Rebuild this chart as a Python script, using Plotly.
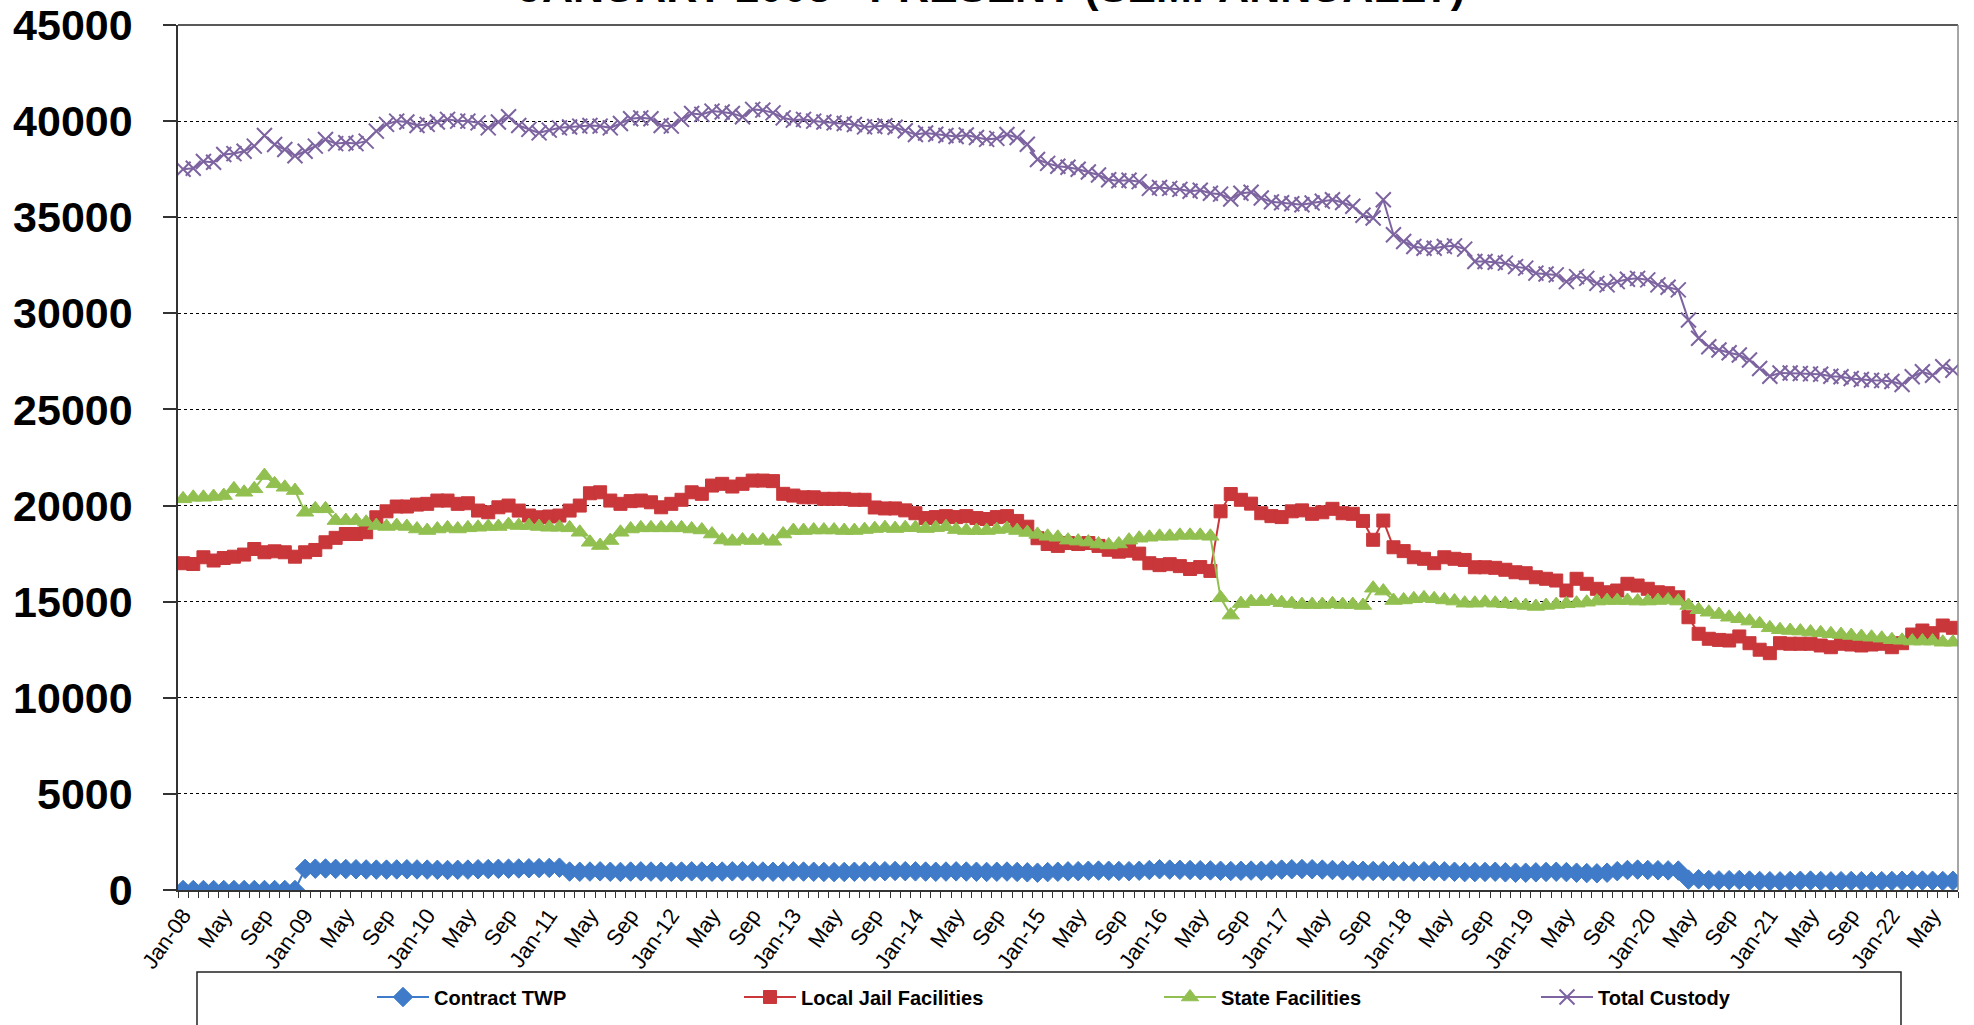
import plotly.graph_objects as go

MONTH_NAMES = ["Jan", "Feb", "Mar", "Apr", "May", "Jun", "Jul", "Aug", "Sep", "Oct", "Nov", "Dec"]
YEARS = ["08", "09", "10", "11", "12", "13", "14", "15", "16", "17", "18", "19", "20", "21", "22"]
# monthly categories Jan-08 .. Jul-22
CATEGORIES = [f"{m}-{y}" for y in YEARS for m in MONTH_NAMES][:175]

TICK_LABELS = ["Jan-08", "May", "Sep", "Jan-09", "May", "Sep", "Jan-10", "May", "Sep",
               "Jan-11", "May", "Sep", "Jan-12", "May", "Sep", "Jan-13", "May", "Sep",
               "Jan-14", "May", "Sep", "Jan-15", "May", "Sep", "Jan-16", "May", "Sep",
               "Jan-17", "May", "Sep", "Jan-18", "May", "Sep", "Jan-19", "May", "Sep",
               "Jan-20", "May", "Sep", "Jan-21", "May", "Sep", "Jan-22", "May"]

CONTRACT_TWP = [
    0, 0, 0, 0, 0, 0, 0, 0, 0, 0, 0, 0,
    1100, 1110, 1120, 1100, 1090, 1080, 1070, 1060, 1060, 1070, 1080, 1070,
    1060, 1050, 1040, 1050, 1060, 1080, 1090, 1100, 1110, 1120, 1130, 1140,
    1150, 1160, 960, 950, 960, 970, 950, 940, 960, 970, 960, 950,
    950, 960, 970, 960, 950, 960, 970, 980, 970, 960, 950, 960,
    970, 960, 950, 940, 930, 940, 950, 960, 970, 980, 990, 980,
    970, 960, 950, 960, 970, 960, 950, 940, 950, 960, 940, 920,
    900, 930, 950, 970, 980, 1000, 1010, 1000, 990, 980, 1000, 1040,
    1080, 1060, 1050, 1040, 1030, 1020, 1000, 990, 1000, 1010, 1000, 1040,
    1060, 1080, 1090, 1080, 1060, 1040, 1020, 1010, 1000, 990, 990, 980,
    970, 960, 980, 990, 970, 950, 930, 930, 940, 950, 920, 900,
    900, 920, 940, 950, 930, 900, 880, 870, 900, 980, 1040, 1060,
    1040, 1030, 1020, 1010, 540, 560, 520, 500, 510, 520, 490, 470,
    460, 450, 470, 480, 490, 470, 450, 460, 470, 460, 450, 460,
    470, 480, 490, 490, 480, 470, 480]

LOCAL_JAIL = [
    17000, 16960, 17310, 17140, 17270, 17340, 17450, 17740, 17570, 17620, 17570, 17340,
    17570, 17690, 18090, 18320, 18520, 18520, 18610, 19390, 19700, 19950, 19950, 20050,
    20090, 20260, 20260, 20090, 20120, 19740, 19650, 19910, 20000, 19740, 19480, 19390,
    19430, 19480, 19740, 20000, 20640, 20690, 20260, 20090, 20230, 20260, 20170, 19910,
    20090, 20300, 20690, 20610, 21040, 21130, 20990, 21130, 21300, 21300, 21270, 20610,
    20520, 20430, 20430, 20350, 20350, 20350, 20300, 20300, 19900, 19850, 19850, 19750,
    19600, 19350, 19400, 19450, 19400, 19450, 19350, 19300, 19400, 19450, 19200, 18900,
    18300, 18000, 17900, 18050, 18000, 18050, 17900, 17700, 17600, 17650, 17500, 17000,
    16900, 16950, 16850, 16700, 16800, 16600, 19700, 20600, 20300, 20100, 19600, 19450,
    19400, 19700, 19750, 19570, 19650, 19830, 19600, 19570, 19200, 18220, 19220, 17830,
    17630, 17310, 17230, 17000, 17310, 17230, 17170, 16790, 16790, 16760, 16660, 16530,
    16480, 16270, 16190, 16100, 15580, 16190, 15930, 15670, 15490, 15580, 15930, 15840,
    15670, 15490, 15440, 15230, 14190, 13330, 13070, 13010, 12980, 13190, 12840, 12500,
    12320, 12840, 12810, 12810, 12810, 12720, 12630, 12810, 12770, 12720, 12770, 12810,
    12630, 12840, 13290, 13500, 13360, 13760, 13640]

STATE_FACILITIES = [
    20350, 20430, 20430, 20470, 20520, 20870, 20690, 20870, 21560, 21130, 20950, 20780,
    19650, 19830, 19830, 19220, 19220, 19220, 19130, 18960, 18910, 18960, 18910, 18780,
    18700, 18780, 18840, 18780, 18840, 18870, 18910, 18910, 19010, 18960, 18960, 18910,
    18870, 18870, 18840, 18610, 18090, 17920, 18180, 18610, 18780, 18840, 18840, 18840,
    18840, 18840, 18780, 18730, 18520, 18210, 18140, 18210, 18180, 18210, 18140, 18520,
    18700, 18700, 18730, 18730, 18730, 18700, 18700, 18750, 18800, 18850, 18800, 18850,
    18850, 18800, 18850, 18900, 18750, 18700, 18700, 18700, 18750, 18800, 18700, 18600,
    18500, 18400, 18350, 18200, 18150, 18100, 18000, 17950, 18000, 18200, 18300, 18350,
    18400, 18400, 18450, 18450, 18450, 18400, 15200, 14300, 14900, 15000, 15000, 15050,
    14950, 14900, 14850, 14850, 14850, 14890, 14850, 14850, 14800, 15700, 15550, 15060,
    15090, 15150, 15200, 15150, 15090, 15030, 14920, 14920, 14970, 14920, 14890, 14850,
    14800, 14750, 14800, 14850, 14890, 14920, 14970, 15030, 15060, 15060, 15060, 15030,
    15030, 15060, 15090, 15030, 14800, 14580, 14450, 14330, 14190, 14110, 13990, 13850,
    13640, 13540, 13500, 13470, 13420, 13380, 13330, 13290, 13240, 13190, 13150, 13100,
    13020, 12990, 12950, 12950, 12950, 12890, 12890]

TOTAL_CUSTODY = [
    37500, 37550, 37900, 37860, 38260, 38310, 38430, 38700, 39250, 38780, 38520, 38200,
    38430, 38700, 39040, 38830, 38870, 38830, 38960, 39480, 39830, 40000, 39950, 39770,
    39830, 39950, 40090, 40000, 40000, 39910, 39650, 39950, 40230, 39770, 39570, 39390,
    39530, 39650, 39690, 39740, 39770, 39740, 39650, 39880, 40120, 40170, 40120, 39770,
    39740, 40090, 40400, 40350, 40520, 40470, 40400, 40230, 40610, 40570, 40430, 40170,
    40050, 40090, 40000, 39950, 39910, 39880, 39820, 39700, 39720, 39760, 39680, 39500,
    39300, 39380, 39320, 39250, 39200, 39280, 39150, 39050, 39100, 39300, 39150, 38800,
    38000, 37800, 37650, 37600, 37500, 37350, 37200, 36950, 36900, 36920, 36850, 36500,
    36550, 36500, 36450, 36350, 36400, 36250, 36200, 35950, 36250, 36300, 36000, 35800,
    35750, 35700, 35650, 35740, 35830, 35910, 35770, 35570, 35100, 34960, 35910, 34090,
    33740, 33480, 33390, 33390, 33480, 33510, 33340, 32700, 32700, 32660, 32610, 32430,
    32350, 32090, 32050, 32000, 31650, 31910, 31820, 31560, 31480, 31650, 31770, 31820,
    31740, 31480, 31360, 31220, 29650, 28700, 28260, 28090, 27950, 27830, 27570, 27130,
    26730, 26900, 26900, 26870, 26850, 26830, 26730, 26700, 26610, 26560, 26520, 26500,
    26450, 26300, 26700, 26960, 26780, 27220, 27040]

TITLE = "JANUARY 2008 - PRESENT (SEMI-ANNUALLY)"

W, H = 1974, 1025
L, R, T, B = 178, 16, 25, 135
PW, PH = W - L - R, H - T - B


def px_x(p):
    return (p - L) / PW


def px_y(p):
    return (H - B - p) / PH


label_every = 4
tick_text = []
k = 0
for i, c in enumerate(CATEGORIES):
    if i % label_every == 0 and k < len(TICK_LABELS):
        tick_text.append(TICK_LABELS[k])
        k += 1
    else:
        tick_text.append("")

series = [
    ("Contract TWP", CONTRACT_TWP, "#3f7bc8", "diamond", 15, "legend"),
    ("Local Jail Facilities", LOCAL_JAIL, "#c9373a", "square", 13, "legend2"),
    ("State Facilities", STATE_FACILITIES, "#92c050", "triangle-up", 15, "legend3"),
    ("Total Custody", TOTAL_CUSTODY, "#7d64a0", "x-thin", 15, "legend4"),
]

fig = go.Figure()
for name, vals, col, sym, sz, lg in series:
    marker = dict(symbol=sym, size=sz, color=col, line=dict(color=col, width=1))
    if sym == "x-thin":
        marker["line"] = dict(color=col, width=2)
    fig.add_trace(go.Scatter(
        x=CATEGORIES, y=vals, name=name, mode="lines+markers",
        line=dict(color=col, width=2), marker=marker, legend=lg,
    ))

legend_font = dict(family="Liberation Sans, Arial", size=20, color="black", weight="bold")
leg_x = [372, 739, 1159, 1536]
ly = px_y(997)
legends = {}
for idx, key in enumerate(["legend", "legend2", "legend3", "legend4"]):
    legends[key] = dict(x=px_x(leg_x[idx]), y=ly, xanchor="left", yanchor="middle",
                        orientation="h", font=legend_font, bgcolor="rgba(0,0,0,0)",
                        borderwidth=0, itemwidth=52)

fig.update_layout(
    width=W, height=H, autosize=False,
    margin=dict(l=L, r=R, t=T, b=B, autoexpand=False),
    paper_bgcolor="white", plot_bgcolor="white",
    showlegend=True,
    **legends,
    xaxis=dict(
        type="category", range=[-0.5, len(CATEGORIES) - 0.5], automargin=False,
        tickmode="array", tickvals=CATEGORIES, ticktext=tick_text,
        tickson="boundaries", ticks="outside", ticklen=6, tickwidth=1, tickcolor="#333",
        showline=True, linecolor="#333", linewidth=1.5, showgrid=False,
        tickangle=-55, ticklabelstandoff=2,
        tickfont=dict(family="Liberation Sans, Arial", size=22, color="black"),
    ),
    yaxis=dict(
        range=[0, 45000], dtick=5000, tick0=0, tickformat="d", automargin=False,
        showgrid=True, gridcolor="black", griddash="dot", gridwidth=1,
        showline=True, linecolor="#333", linewidth=1.5, zeroline=False,
        ticks="outside", ticklen=13, tickwidth=1.5, tickcolor="#333",
        ticklabelstandoff=22,
        tickfont=dict(family="Liberation Sans, Arial", size=43, color="black", weight="bold"),
    ),
    shapes=[
        dict(type="line", xref="paper", yref="paper", x0=0, x1=1, y0=1, y1=1,
             line=dict(color="#222", width=1.5)),
        dict(type="line", xref="paper", yref="paper", x0=1, x1=1, y0=0, y1=1,
             line=dict(color="#888", width=1.5)),
        dict(type="rect", xref="paper", yref="paper", x0=px_x(197), x1=px_x(1901),
             y0=px_y(1045), y1=px_y(972), line=dict(color="#222", width=1.5)),
    ],
    annotations=[
        dict(text=TITLE, xref="paper", yref="paper", x=px_x(991), y=px_y(13),
             xanchor="center", yanchor="bottom", showarrow=False,
             font=dict(family="Liberation Sans, Arial", size=43, color="black", weight="bold")),
    ],
)

fig.write_html(
    "out.html",
    config={"displayModeBar": False},
    post_script="document.body.style.margin='0';document.body.style.overflow='hidden';",
)
